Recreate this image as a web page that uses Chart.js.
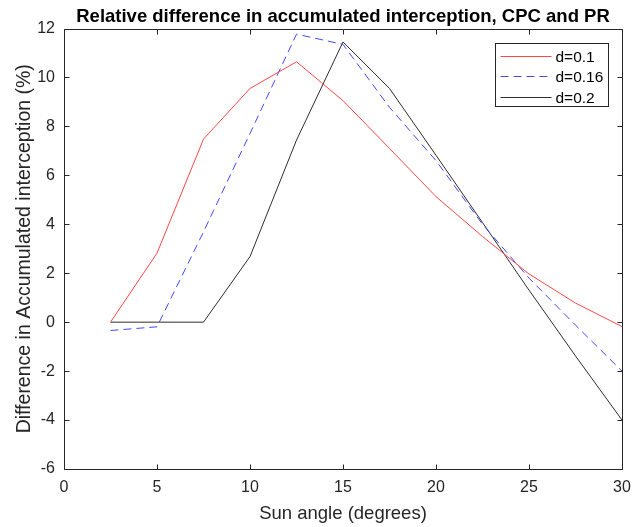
<!DOCTYPE html>
<html lang="en">
<head>
    <meta charset="UTF-8">
    <title>Relative difference in accumulated interception</title>
    <script src="https://cdn.jsdelivr.net/npm/chart.js"></script>
    <style>
        body { margin: 0; background: #fff; }
    </style>
</head>
<body>
    <canvas id="chart" width="632" height="527"></canvas>

    <script>
        // sun angle (degrees)
        const sunAngle = [2.5, 5, 7.5, 10, 12.5, 15, 17.5, 20, 22.5, 25, 27.5, 30];
        // relative difference (%) for each d
        const d01 = [0, 2.82, 7.48, 9.55, 10.64, 9.05, 7.1, 5.13, 3.5, 1.97, 0.78, -0.18];
        const d016 = [-0.34, -0.19, 3.69, 7.71, 11.77, 11.35, 8.78, 6.6, 4.0, 1.8, -0.12, -2.0];
        const d02 = [0, 0, 0, 2.68, 7.44, 11.45, 9.55, 6.82, 4.07, 1.31, -1.38, -4.0];
        const seriesLabels = ['d=0.1', 'd=0.16', 'd=0.2'];

        const xTicks = [0, 5, 10, 15, 20, 25, 30];
        const yTicks = [-6, -4, -2, 0, 2, 4, 6, 8, 10, 12];

        const FONT = 'Liberation Sans, Arial, Helvetica, sans-serif';
        const AXIS_COLOR = '#262626';

        function toPoints(ys) {
            return sunAngle.map((x, i) => ({ x: x, y: ys[i] }));
        }

        // box around the axes, inward ticks on all sides, legend in the corner
        const matlabAxes = {
            id: 'matlabAxes',
            afterDraw(chart) {
                const ctx = chart.ctx;
                const a = chart.chartArea;
                const xs = chart.scales.x, ys = chart.scales.y;
                const L = Math.round(a.left) + 0.5, R = Math.round(a.right) + 0.5;
                const T = Math.round(a.top) + 0.5, B = Math.round(a.bottom) + 0.5;
                const tl = 5;
                ctx.save();
                ctx.strokeStyle = AXIS_COLOR;
                ctx.lineWidth = 1;
                ctx.beginPath();
                ctx.rect(L, T, R - L, B - T);
                xTicks.forEach(v => {
                    const px = Math.round(xs.getPixelForValue(v)) + 0.5;
                    ctx.moveTo(px, B); ctx.lineTo(px, B - tl);
                    ctx.moveTo(px, T); ctx.lineTo(px, T + tl);
                });
                yTicks.forEach(v => {
                    const py = Math.round(ys.getPixelForValue(v)) + 0.5;
                    ctx.moveTo(L, py); ctx.lineTo(L + tl, py);
                    ctx.moveTo(R, py); ctx.lineTo(R - tl, py);
                });
                ctx.stroke();

                // legend box
                const bx = 495.5, by = 43.5, bw = 113, bh = 63;
                ctx.fillStyle = '#fff';
                ctx.fillRect(bx, by, bw, bh);
                ctx.strokeStyle = AXIS_COLOR;
                ctx.strokeRect(bx, by, bw, bh);
                ctx.font = '15.5px ' + FONT;
                ctx.textBaseline = 'middle';
                ctx.textAlign = 'left';
                chart.data.datasets.forEach((ds, i) => {
                    const y = Math.round(by + 12 + i * 20.5) + 0.5;
                    ctx.strokeStyle = ds.borderColor;
                    ctx.lineWidth = 1;
                    ctx.setLineDash(ds.borderDash || []);
                    ctx.beginPath();
                    ctx.moveTo(bx + 5, y);
                    ctx.lineTo(bx + 56, y);
                    ctx.stroke();
                    ctx.setLineDash([]);
                    ctx.fillStyle = '#000';
                    ctx.fillText(ds.label, bx + 60, y + 1);
                });
                ctx.restore();
            }
        };

        new Chart(document.getElementById('chart').getContext('2d'), {
            type: 'line',
            data: {
                datasets: [
                    { label: seriesLabels[0], data: toPoints(d01), borderColor: 'rgb(255,70,70)', borderWidth: 1, pointRadius: 0, fill: false, tension: 0 },
                    { label: seriesLabels[1], data: toPoints(d016), borderColor: 'rgb(70,70,255)', borderWidth: 1, borderDash: [8, 5], pointRadius: 0, fill: false, tension: 0 },
                    { label: seriesLabels[2], data: toPoints(d02), borderColor: 'rgb(45,45,45)', borderWidth: 1, pointRadius: 0, fill: false, tension: 0 }
                ]
            },
            options: {
                responsive: false,
                animation: false,
                layout: { padding: { left: 0, right: 10, top: 0, bottom: 0 } },
                plugins: {
                    legend: { display: false },
                    tooltip: { enabled: false },
                    title: {
                        display: true,
                        fullSize: false,
                        text: 'Relative difference in accumulated interception, CPC and PR',
                        color: '#000',
                        font: { family: FONT, size: 18.5, weight: 'bold', lineHeight: 1.2 },
                        padding: { top: 6, bottom: 0.3 }
                    }
                },
                scales: {
                    x: {
                        type: 'linear',
                        min: 0, max: 30,
                        afterFit: s => { s.height = 58; s.paddingRight = 0; s.paddingLeft = 0; },
                        afterBuildTicks: s => { s.ticks = xTicks.map(v => ({ value: v })); },
                        grid: { display: false, drawTicks: false },
                        border: { display: false },
                        ticks: { color: '#262626', font: { family: FONT, size: 16 }, padding: 9, maxRotation: 0 },
                        title: {
                            display: true,
                            text: 'Sun angle (degrees)',
                            color: '#262626',
                            font: { family: FONT, size: 18.5 },
                            padding: { top: 0, bottom: 2 }
                        }
                    },
                    y: {
                        type: 'linear',
                        min: -6, max: 12,
                        afterFit: s => { s.width = 64; },
                        afterBuildTicks: s => { s.ticks = yTicks.map(v => ({ value: v })); },
                        grid: { display: false, drawTicks: false },
                        border: { display: false },
                        ticks: { color: '#262626', font: { family: FONT, size: 16 }, padding: 9 },
                        title: {
                            display: true,
                            text: 'Difference in Accumulated interception (%)',
                            color: '#262626',
                            font: { family: FONT, size: 19.5 },
                            padding: { top: 13, bottom: 0 }
                        }
                    }
                }
            },
            plugins: [matlabAxes]
        });
    </script>
</body>
</html>
